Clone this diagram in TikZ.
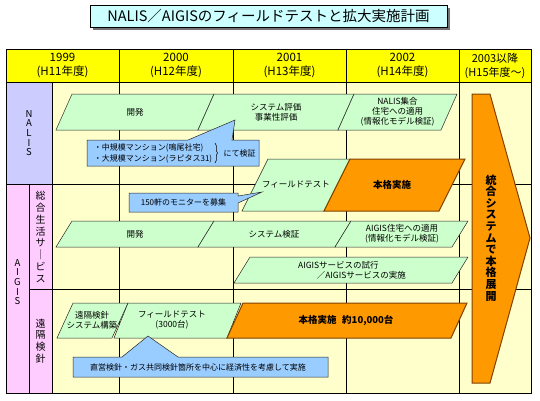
\documentclass[tikz,border=0pt]{standalone}
\usepackage{fontspec}
\setmainfont{Noto Sans CJK JP}
\usetikzlibrary{decorations.pathreplacing}
\definecolor{cream}{HTML}{FFFFCC}
\definecolor{hdr}{HTML}{FFFF00}
\definecolor{lav}{HTML}{CCCCFF}
\definecolor{pinkc}{HTML}{FFCCFF}
\definecolor{greenc}{HTML}{CCFFCC}
\definecolor{bluec}{HTML}{99CCFF}
\definecolor{orangec}{HTML}{FF9900}
\definecolor{brownc}{HTML}{804000}
\definecolor{titlec}{HTML}{CCFFFF}
\newcommand\pgm[6]{\draw[#6] (#1,#3) -- (#2,#3) -- ({#2-#5},#4) -- ({#1-#5},#4) -- cycle;}
\begin{document}
\begin{tikzpicture}[x=1pt,y=-1pt,
  grid/.style={draw=black,line width=0.8pt},
  gbox/.style={draw=black!85,line width=0.5pt,fill=greenc},
  obox/.style={draw=brownc,line width=1pt,fill=orangec},
  callout/.style={draw=black!85,line width=0.5pt,fill=bluec},
  txt/.style={font=\fontsize{8.5}{10}\selectfont,align=center,inner sep=0pt},
  btxt/.style={font=\fontsize{9.5}{11}\selectfont\bfseries,align=center,inner sep=0pt},
  htxt/.style={font=\fontsize{11.5}{14}\selectfont,align=center,inner sep=0pt},
  vtxt/.style={font=\fontsize{10}{11.8}\selectfont,align=center,inner sep=0pt}]
\useasboundingbox (0,0) rectangle (540,400);
\fill[white] (0,0) rectangle (540,400);
% title
\fill[black!55] (93,8) rectangle (450,30);
\node[draw=black,line width=1pt,fill=titlec,minimum width=357pt,minimum height=22pt,inner sep=0pt,
  font=\fontsize{14.5}{16}\selectfont] (title) at (268.5,16) {NALIS／AIGISのフィールドテストと拡大実施計画};
% backgrounds
\fill[hdr] (6,49) rectangle (531,82);
\fill[lav] (6,82) rectangle (52,184);
\fill[pinkc] (6,184) rectangle (52,393);
\fill[cream] (52,82) rectangle (531,393);
% grid
\draw[grid] (6,49) rectangle (531,393);
\draw[grid] (6,82) -- (531,82);
\draw[grid] (6,184) -- (531,184);
\draw[grid] (29,289) -- (531,289);
\draw[grid] (29,184) -- (29,393);
\draw[grid] (52,82) -- (52,393);
\foreach \cx in {119,233,346,459} {\draw[grid] (\cx,49) -- (\cx,393);}
% header texts
\node[htxt] (h1) at (62.5,65.5) {1999\\(H11年度)};
\node[htxt] (h2) at (176,65.5) {2000\\(H12年度)};
\node[htxt] (h3) at (289.5,65.5) {2001\\(H13年度)};
\node[htxt] (h4) at (402.5,65.5) {2002\\(H14年度)};
\node[htxt,font=\fontsize{11}{14}\selectfont] (h5) at (495,65.5) {2003以降\\(H15年度～)};
% left labels
\node[font=\fontsize{9.5}{9.6}\selectfont,align=center,inner sep=0pt] (nalis) at (29,133) {N\\A\\L\\I\\S};
\node[font=\fontsize{9.5}{9.6}\selectfont,align=center,inner sep=0pt] (aigis) at (17.5,282) {A\\I\\G\\I\\S};
\node[vtxt] (sogo) at (40.5,237) {総\\合\\生\\活\\サ\\｜\\ビ\\ス};
\node[vtxt] (enkaku) at (40.5,341) {遠\\隔\\検\\針};
% NALIS row
\pgm{72}{214}{94}{130}{16}{gbox}
\pgm{214}{354}{94}{130}{16}{gbox}
\pgm{354}{457}{94}{130}{16}{gbox}
\node[txt] (n1) at (135,112) {開発};
\node[txt] (n2) at (276,112) {システム評価\\事業性評価};
\node[txt] (n3) at (397.5,112) {NALIS集合\\住宅への適用\\(情報化モデル検証)};
% field test row
\pgm{268}{350}{159}{211}{26}{gbox}
\pgm{350}{465}{159}{211}{26}{obox}
\node[txt] (f1) at (296,185) {フィールドテスト};
\node[btxt] (f2) at (392,185) {本格実施};
% sogo row
\pgm{72}{214}{221}{247}{16}{gbox}
\pgm{214}{351}{221}{247}{16}{gbox}
\pgm{351}{468}{221}{247}{16}{gbox}
\node[txt] (s1) at (135,234) {開発};
\node[txt] (s2) at (274,234) {システム検証};
\node[txt] (s3) at (402,234) {AIGIS住宅への適用\\(情報化モデル検証)};
\pgm{250}{468}{257}{283}{16}{gbox}
\node[txt,align=left] (s4) at (352,270) {AIGISサービスの試行\\\hspace{2.2em}／AIGISサービスの実施};
% enkaku row
\pgm{73}{128}{303}{338}{16}{gbox}
\pgm{128}{241}{303}{338}{14}{gbox}
\pgm{243}{467}{303}{338}{16}{obox}
\node[txt] (e1) at (92,320) {遠隔検針\\システム構築};
\node[txt] (e2) at (172,320) {フィールドテスト\\(3000台)};
\node[btxt] (e3) at (346,320) {本格実施\hspace{0.6em}約10,000台};
% callouts
\draw[callout] (87,140) -- (188,140) -- (235,120) -- (232,140) -- (259,140) -- (259,166) -- (87,166) -- cycle;
\node[txt,align=left,font=\fontsize{8}{11}\selectfont] (c1) at (153,153) {・中規模マンション(鳴尾社宅)\\・大規模マンション(ラピタス31)};
\draw[line width=0.5pt,decorate,decoration={brace,amplitude=2.5pt}] (215,143) -- (215,163);
\node[txt,font=\fontsize{8}{10}\selectfont] (c1b) at (239.5,153) {にて検証};
\draw[callout] (129,193) -- (238,193) -- (238,196) -- (262,192) -- (238,203) -- (238,212) -- (129,212) -- cycle;
\node[txt,font=\fontsize{8}{10}\selectfont] (c2) at (183.5,202.5) {150軒のモニターを募集};
\draw[callout] (73,357) -- (122,357) -- (148,336) -- (178,357) -- (328,357) -- (328,377) -- (73,377) -- cycle;
\node[txt,font=\fontsize{8}{10}\selectfont] (c3) at (198,367) {直営検針・ガス共同検針箇所を中心に経済性を考慮して実施};
% big arrow
\draw[obox] (472,94) -- (490,94) -- (530,238) -- (490,383) -- (472,383) -- cycle;
\node[font=\fontsize{11}{11.6}\selectfont\bfseries,align=center,inner sep=0pt] (big) at (491,238)
  {統\\合\\シ\\ス\\テ\\ム\\で\\本\\格\\展\\開};
\end{tikzpicture}
\end{document}
